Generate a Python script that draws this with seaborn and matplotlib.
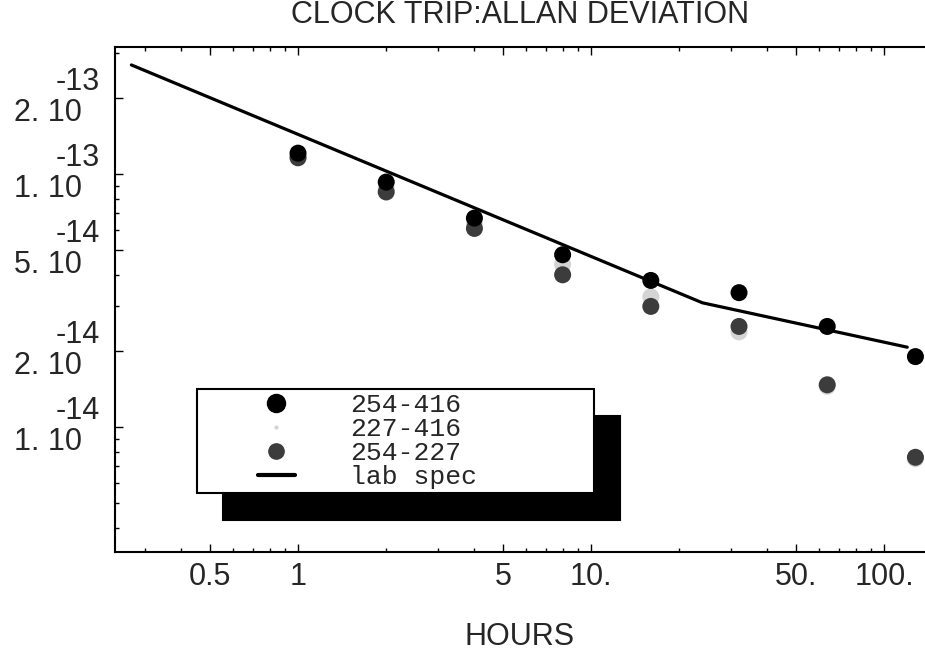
import numpy as np
import pandas as pd
import matplotlib
matplotlib.use('Agg')
import matplotlib.pyplot as plt
import matplotlib.ticker as mticker
import matplotlib.transforms as mtransforms
from matplotlib.lines import Line2D
from matplotlib.legend_handler import HandlerLine2D
import seaborn as sns

sns.set_style('ticks')
plt.rcParams['font.family'] = ['Liberation Sans', 'DejaVu Sans']

# averaging time in hours
hours = [1, 2, 4, 8, 16, 32, 64, 128]

# allan deviation for each clock pair
adev_254_416 = [1.21e-13, 9.3e-14, 6.7e-14, 4.8e-14, 3.8e-14, 3.4e-14, 2.5e-14, 1.9e-14]
adev_227_416 = [1.17e-13, 8.8e-14, 6.4e-14, 4.4e-14, 3.27e-14, 2.38e-14, 1.45e-14, 7.5e-15]
adev_254_227 = [1.16e-13, 8.5e-14, 6.1e-14, 4.0e-14, 3.0e-14, 2.5e-14, 1.47e-14, 7.6e-15]

# lab spec line
spec_hours = [0.27, 24, 120]
spec_adev = [2.7e-13, 3.1e-14, 2.07e-14]

# axis ticks
xtick_vals = [0.5, 1, 5, 10, 50, 100]
xtick_labels = ['0.5', '1', '5', '10.', '50.', '100.']
ytick_vals = [2e-13, 1e-13, 5e-14, 2e-14, 1e-14]
ytick_mant = ['2. 10', '1. 10', '5. 10', '2. 10', '1. 10']
ytick_exp = ['-13', '-13', '-14', '-14', '-14']

pairs = ['227-416', '254-227', '254-416']  # drawing order, black on top
colors = {'227-416': '#d4d4d4', '254-227': '#3c3c3c', '254-416': '#000000'}

df = pd.DataFrame({
    'hours': hours * 3,
    'adev': adev_227_416 + adev_254_227 + adev_254_416,
    'pair': [p for p in pairs for _ in hours],
})

fig = plt.figure(figsize=(9.25, 6.57), dpi=100)
ax = fig.add_axes([0.1243, 0.1598, 0.8757, 0.7687])
ax.set_xscale('log')
ax.set_yscale('log')

sns.scatterplot(data=df, x='hours', y='adev', hue='pair', palette=colors,
                s=150, linewidth=0, legend=False, ax=ax, zorder=3)
sns.lineplot(x=spec_hours, y=spec_adev, color='black', lw=2.3,
             estimator=None, sort=False, ax=ax, zorder=2)

ax.set_xlim(0.2373, 138)
ax.set_ylim(3.21e-15, 3.18e-13)

# x ticks
ax.xaxis.set_major_locator(mticker.FixedLocator(xtick_vals))
ax.xaxis.set_major_formatter(mticker.FixedFormatter(xtick_labels))
ax.xaxis.set_minor_locator(mticker.LogLocator(base=10, subs=np.arange(2, 10) * 1.0, numticks=20))
ax.xaxis.set_minor_formatter(mticker.NullFormatter())

# y ticks, labels drawn by hand as "2. 10" with exponent above
ax.yaxis.set_major_locator(mticker.FixedLocator(ytick_vals))
ax.yaxis.set_major_formatter(mticker.NullFormatter())
ax.yaxis.set_minor_locator(mticker.LogLocator(base=10, subs=np.arange(2, 10) * 1.0, numticks=20))
ax.yaxis.set_minor_formatter(mticker.NullFormatter())

ax.tick_params(which='both', direction='in', top=True, right=False, width=1, color='black')
ax.tick_params(which='major', length=6, labelsize=22, pad=7)
ax.tick_params(which='minor', length=3)

trans = mtransforms.blended_transform_factory(ax.transAxes, ax.transData)
for v, m, e in zip(ytick_vals, ytick_mant, ytick_exp):
    t_m = mtransforms.offset_copy(trans, fig=fig, x=-33, y=-15, units='dots')
    t_e = mtransforms.offset_copy(trans, fig=fig, x=-15, y=16, units='dots')
    ax.text(0, v, m, transform=t_m, ha='right', va='center', fontsize=22)
    ax.text(0, v, e, transform=t_e, ha='right', va='center', fontsize=22)

for side in ['left', 'bottom', 'top']:
    ax.spines[side].set_linewidth(1.5)
    ax.spines[side].set_color('black')
ax.spines['right'].set_visible(False)

ax.set_title('CLOCK TRIP:ALLAN DEVIATION', fontsize=22, pad=17)
ax.set_xlabel('HOURS', fontsize=22, labelpad=22)
ax.set_ylabel('')

# legend
handles = [
    Line2D([], [], ls='none', marker='o', ms=13, color=colors['254-416']),
    Line2D([], [], ls='none', marker='o', ms=2, color=colors['227-416']),
    Line2D([], [], ls='none', marker='o', ms=11, color=colors['254-227']),
    Line2D([], [], color='black', lw=3),
]
labels = ['254-416', '227-416', '254-227', 'lab spec']
leg = ax.legend(handles, labels, loc='upper left',
                bbox_to_anchor=(0.1012, 0.0, 0.490, 0.3228), mode='expand',
                borderaxespad=0, borderpad=0.15, labelspacing=0.0,
                handlelength=3.56, handletextpad=2.08,
                handler_map={Line2D: HandlerLine2D(xpad=2.16)},
                prop={'family': 'Liberation Mono', 'size': 19},
                fancybox=False, framealpha=1, edgecolor='black',
                shadow={'ox': 18.7, 'oy': -19.4, 'color': 'black', 'alpha': 1})
leg.get_frame().set_linewidth(1.5)

fig.savefig('out.png', dpi=100)
